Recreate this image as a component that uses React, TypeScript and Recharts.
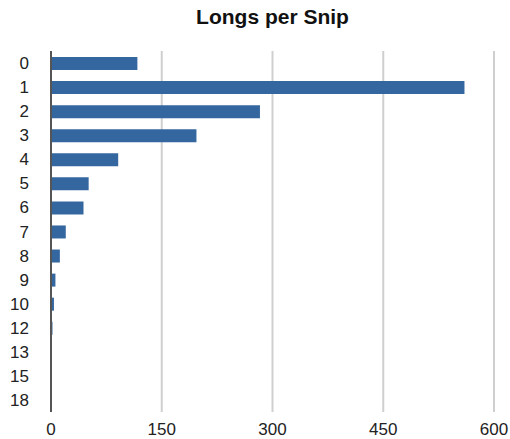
import { Bar, BarChart, CartesianGrid, XAxis, YAxis } from "recharts";

const snipCounts = ["0", "1", "2", "3", "4", "5", "6", "7", "8", "9", "10", "12", "13", "15", "18"];
const longValues = [117, 560, 283, 197, 91, 51, 44, 20, 12, 6, 4, 2, 1, 1, 1];
const xTicks = [0, 150, 300, 450, 600];

const data = snipCounts.map((snips, i) => ({ snips, longs: longValues[i] }));

const font = "'Liberation Sans', Arial, Helvetica, sans-serif";

export default function App() {
  return (
    <div style={{ position: "absolute", left: 0, top: 0, width: 510, height: 439, background: "#fff", fontFamily: font }}>
      <div
        style={{
          position: "absolute",
          left: 51,
          top: 6,
          width: 443,
          textAlign: "center",
          fontSize: 21,
          lineHeight: "21px",
          fontWeight: "bold",
          color: "#111",
        }}
      >
        Longs per Snip
      </div>
      <BarChart
        width={510}
        height={439}
        data={data}
        layout="vertical"
        margin={{ top: 51, right: 16, left: 0, bottom: 0 }}
        barSize={13}
      >
        <CartesianGrid horizontal={false} stroke="#cfcfcf" strokeWidth={2} />
        <XAxis
          type="number"
          domain={[0, 600]}
          ticks={xTicks}
          axisLine={false}
          tickLine={false}
          tickSize={0}
          tickMargin={11}
          height={27}
          tick={{ fill: "#222", fontSize: 17, fontFamily: font }}
        />
        <YAxis
          type="category"
          dataKey="snips"
          width={51}
          axisLine={{ stroke: "#555", strokeWidth: 2 }}
          tickLine={false}
          tickSize={0}
          tickMargin={22}
          interval={0}
          tick={{ fill: "#222", fontSize: 17, fontFamily: font }}
        />
        <Bar dataKey="longs" fill="#34669f" isAnimationActive={false} />
      </BarChart>
    </div>
  );
}
